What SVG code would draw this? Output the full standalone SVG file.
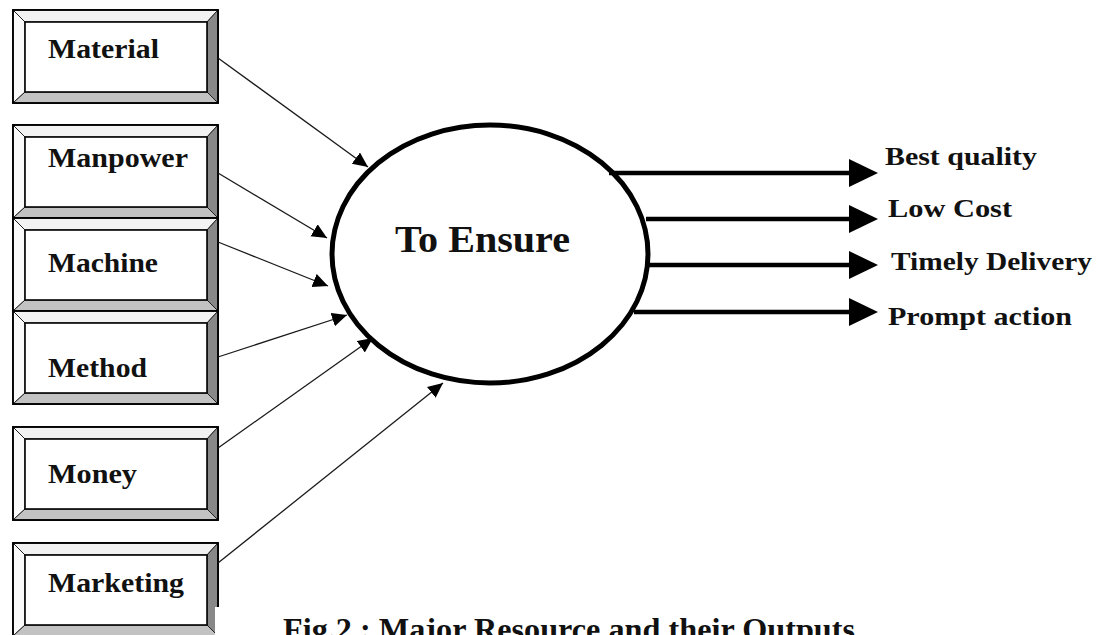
<svg xmlns="http://www.w3.org/2000/svg" xmlns:xlink="http://www.w3.org/1999/xlink" width="1099" height="635" viewBox="0 0 1099 635">
<style>
.bt{font-family:"Liberation Serif","Times New Roman",serif;font-weight:bold;fill:#111;}
.lbl{font-size:28px;}
.out{font-size:25px;}
.in{stroke:#1a1a1a;stroke-width:1.3;fill:none;}
.ol{stroke:#000;stroke-width:4.5;fill:none;}
.bev{stroke:#222;stroke-width:1;stroke-linejoin:miter;}
</style>
<defs>
<marker id="ah" markerUnits="userSpaceOnUse" markerWidth="17" markerHeight="15" refX="15" refY="7" orient="auto">
<path d="M0,0 L15,7 L0,14 z" fill="#000"/>
</marker>
<marker id="ah2" markerUnits="userSpaceOnUse" markerWidth="31" markerHeight="30" refX="1" refY="14" orient="auto">
<path d="M0,0 L29,14 L0,28 z" fill="#000"/>
</marker>
<g id="bevel">
<rect x="0" y="0" width="205" height="93" fill="#fff" stroke="#000" stroke-width="1.6"/>
<polygon class="bev" points="0,0 205,0 194,12 12,12" fill="#f2f2f2"/>
<polygon class="bev" points="0,0 12,12 12,82 0,93" fill="#fafafa"/>
<polygon class="bev" points="205,0 205,93 194,82 194,12" fill="#888"/>
<polygon class="bev" points="0,93 12,82 194,82 205,93" fill="#c2c2c2"/>
<rect x="12" y="12" width="182" height="70" fill="#fff" stroke="#000" stroke-width="1.6"/>
<rect x="0" y="0" width="205" height="93" fill="none" stroke="#000" stroke-width="1.8"/>
</g>
</defs>
<rect width="1099" height="635" fill="#fff"/>

<g id="node-material"><use xlink:href="#bevel" x="13" y="10"/><text class="bt lbl" x="48" y="58" textLength="111" lengthAdjust="spacingAndGlyphs">Material</text></g>
<g id="node-manpower"><use xlink:href="#bevel" x="13" y="125"/><text class="bt lbl" x="48" y="167" textLength="140" lengthAdjust="spacingAndGlyphs">Manpower</text></g>
<g id="node-machine"><use xlink:href="#bevel" x="13" y="218"/><text class="bt lbl" x="48" y="272" textLength="110" lengthAdjust="spacingAndGlyphs">Machine</text></g>
<g id="node-method"><use xlink:href="#bevel" x="13" y="311"/><text class="bt lbl" x="48" y="377" textLength="99" lengthAdjust="spacingAndGlyphs">Method</text></g>
<g id="node-money"><use xlink:href="#bevel" x="13" y="427"/><text class="bt lbl" x="48" y="483" textLength="89" lengthAdjust="spacingAndGlyphs">Money</text></g>
<g id="node-marketing"><use xlink:href="#bevel" x="13" y="543"/><text class="bt lbl" x="48" y="592" textLength="136" lengthAdjust="spacingAndGlyphs">Marketing</text></g>

<g id="node-ensure">
<ellipse cx="490" cy="254" rx="158" ry="129" fill="#fff" stroke="#000" stroke-width="5"/>
<text class="bt" style="font-size:38px" x="395" y="252" textLength="175" lengthAdjust="spacingAndGlyphs">To Ensure</text>
</g>

<g id="connectors">
<line class="in" x1="218" y1="58" x2="368" y2="167" marker-end="url(#ah)"/>
<line class="in" x1="218" y1="173" x2="327" y2="238" marker-end="url(#ah)"/>
<line class="in" x1="218" y1="242" x2="328" y2="286" marker-end="url(#ah)"/>
<line class="in" x1="218" y1="357" x2="347" y2="315" marker-end="url(#ah)"/>
<line class="in" x1="218" y1="448" x2="373" y2="338" marker-end="url(#ah)"/>
<line class="in" x1="218" y1="563" x2="443" y2="383" marker-end="url(#ah)"/>
<line class="ol" x1="609" y1="173" x2="850" y2="173" marker-end="url(#ah2)"/>
<line class="ol" x1="646" y1="219" x2="850" y2="219" marker-end="url(#ah2)"/>
<line class="ol" x1="648" y1="265" x2="850" y2="265" marker-end="url(#ah2)"/>
<line class="ol" x1="634" y1="312" x2="850" y2="312" marker-end="url(#ah2)"/>
</g>

<g id="outputs">
<text class="bt out" x="885" y="165" textLength="152" lengthAdjust="spacingAndGlyphs">Best quality</text>
<text class="bt out" x="888" y="217" textLength="124" lengthAdjust="spacingAndGlyphs">Low Cost</text>
<text class="bt out" x="891" y="270" textLength="201" lengthAdjust="spacingAndGlyphs">Timely Delivery</text>
<text class="bt out" x="888" y="325" textLength="184" lengthAdjust="spacingAndGlyphs">Prompt action</text>
</g>

<g id="caption">
<rect x="215" y="607" width="884" height="28" fill="#fff"/>
<text class="bt" style="font-size:32px" x="283" y="640" textLength="572" lengthAdjust="spacingAndGlyphs">Fig.2 : Major Resource and their Outputs</text>
</g>
</svg>
